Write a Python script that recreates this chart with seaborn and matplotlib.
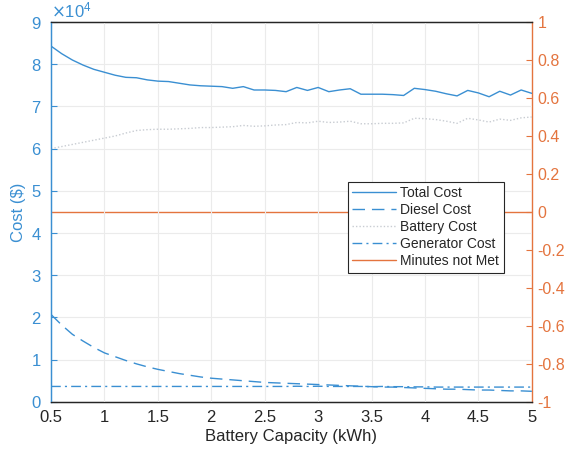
import numpy as np
import pandas as pd
import matplotlib
matplotlib.use('Agg')
import matplotlib.pyplot as plt
import seaborn as sns
from matplotlib.ticker import ScalarFormatter, MultipleLocator

# Battery capacity (kWh)
capacity = [0.5, 0.6, 0.7, 0.8, 0.9, 1.0, 1.1, 1.2, 1.3, 1.4,
            1.5, 1.6, 1.7, 1.8, 1.9, 2.0, 2.1, 2.2, 2.3, 2.4,
            2.5, 2.6, 2.7, 2.8, 2.9, 3.0, 3.1, 3.2, 3.3, 3.4,
            3.5, 3.6, 3.7, 3.8, 3.9, 4.0, 4.1, 4.2, 4.3, 4.4,
            4.5, 4.6, 4.7, 4.8, 4.9, 5.0]

# costs in $
total_cost = [84300, 82500, 81000, 79800, 78800, 78100, 77400, 76900, 76800, 76300,
              76000, 75900, 75500, 75100, 74900, 74800, 74700, 74300, 74700, 73900,
              73900, 73800, 73500, 74500, 73800, 74500, 73500, 73900, 74200, 72900,
              72900, 72900, 72800, 72600, 74300, 74000, 73600, 73000, 72500, 73800,
              73200, 72300, 73600, 72700, 73900, 73100]

diesel_cost = [20700, 18200, 16000, 14400, 12900, 11600, 10700, 9800, 9000, 8300,
               7700, 7200, 6700, 6300, 5900, 5600, 5400, 5200, 5000, 4800,
               4600, 4500, 4400, 4300, 4200, 4100, 4000, 3900, 3800, 3700,
               3600, 3500, 3500, 3400, 3300, 3200, 3100, 3000, 3000, 2900,
               2800, 2800, 2700, 2600, 2600, 2500]

battery_cost = [60000, 60500, 61000, 61500, 62000, 62500, 63000, 63700, 64300, 64500,
                64600, 64600, 64700, 64800, 65000, 65000, 65100, 65200, 65500, 65300,
                65400, 65600, 65700, 66200, 66100, 66500, 66200, 66300, 66500, 65900,
                65900, 66000, 66000, 66100, 67200, 67100, 66900, 66500, 66000, 67200,
                66800, 66300, 67000, 66700, 67300, 67500]

generator_cost = [3650, 3650, 3650, 3650, 3650, 3650, 3650, 3650, 3650, 3650,
                  3650, 3650, 3650, 3650, 3650, 3650, 3650, 3650, 3650, 3650,
                  3650, 3650, 3650, 3700, 3650, 3700, 3650, 3650, 3650, 3650,
                  3600, 3650, 3600, 3600, 3550, 3550, 3500, 3500, 3500, 3500,
                  3500, 3500, 3500, 3500, 3500, 3500]

minutes_not_met = [0] * len(capacity)

df = pd.DataFrame({
    'capacity': capacity,
    'total': total_cost,
    'diesel': diesel_cost,
    'battery': battery_cost,
    'generator': generator_cost,
    'minutes': minutes_not_met,
})

sns.set_style('white')
plt.rcParams['font.family'] = ['Liberation Sans', 'DejaVu Sans']

blue = '#3a8fd2'
orange = '#e4743e'
dark = '#262626'

fig = plt.figure(figsize=(5.67, 4.5), dpi=100)
ax = fig.add_axes([0.09, 0.107, 0.848, 0.844])
ax2 = ax.twinx()

sns.lineplot(data=df, x='capacity', y='total', ax=ax, color=blue, lw=1.0, label='Total Cost')
sns.lineplot(data=df, x='capacity', y='diesel', ax=ax, color=blue, lw=1.0, label='Diesel Cost',
             linestyle=(0, (9, 5)))
sns.lineplot(data=df, x='capacity', y='battery', ax=ax, color='#c8ccd2', lw=1.0, label='Battery Cost',
             linestyle=(0, (1, 1.5)))
sns.lineplot(data=df, x='capacity', y='generator', ax=ax, color=blue, lw=1.0, label='Generator Cost',
             linestyle=(0, (7, 3, 1.5, 3)))
sns.lineplot(data=df, x='capacity', y='minutes', ax=ax2, color=orange, lw=1.0, label='Minutes not Met')

ax.set_xlim(0.5, 5)
ax.set_ylim(0, 90000)
ax2.set_ylim(-1, 1)
ax.xaxis.set_major_locator(MultipleLocator(0.5))
ax.yaxis.set_major_locator(MultipleLocator(10000))
ax2.yaxis.set_major_locator(MultipleLocator(0.2))

fmt = ScalarFormatter(useMathText=True)
fmt.set_powerlimits((0, 0))
ax.yaxis.set_major_formatter(fmt)
ax.xaxis.set_major_formatter(plt.FuncFormatter(lambda v, p: f'{v:g}'))
ax2.yaxis.set_major_formatter(plt.FuncFormatter(lambda v, p: f'{v:g}' if abs(v) > 1e-9 else '0'))

ax.grid(True, color='#ebebeb', lw=0.8)
ax.set_axisbelow(True)

ax.set_xlabel('Battery Capacity (kWh)', fontsize=12, color=dark, labelpad=3)
ax.set_ylabel('Cost ($)', fontsize=12, color=blue, labelpad=3)
ax2.set_ylabel('')

ax.tick_params(axis='x', labelsize=12, colors=dark, direction='in', length=4, pad=6)
ax.tick_params(axis='y', labelsize=12, colors=blue, direction='in', length=4, pad=7)
ax2.tick_params(axis='y', labelsize=11.5, colors=orange, direction='in', length=4, pad=4)
ax.yaxis.get_offset_text().set_color(blue)
ax.yaxis.get_offset_text().set_fontsize(12)

for sp in ['top', 'bottom']:
    ax.spines[sp].set_color(dark)
    ax2.spines[sp].set_color(dark)
ax.spines['left'].set_color(blue)
ax2.spines['left'].set_color(blue)
ax2.spines['right'].set_color(orange)
ax.spines['right'].set_visible(False)
for sp in ax2.spines.values():
    sp.set_linewidth(1.0)

h1, l1 = ax.get_legend_handles_labels()
h2, l2 = ax2.get_legend_handles_labels()
if ax2.get_legend():
    ax2.get_legend().remove()
leg = ax.legend(h1 + h2, l1 + l2, loc='upper left', bbox_to_anchor=(0.617, 0.579),
                fontsize=10, frameon=True, fancybox=False, edgecolor=dark,
                handlelength=3.2, handletextpad=0.3, borderpad=0.3, labelspacing=0.22,
                borderaxespad=0, framealpha=1)
leg.get_frame().set_linewidth(0.8)
leg.set_zorder(10)
ax2.set_zorder(0)
ax.set_zorder(1)
ax.patch.set_visible(False)

fig.savefig('out.png', dpi=100)
